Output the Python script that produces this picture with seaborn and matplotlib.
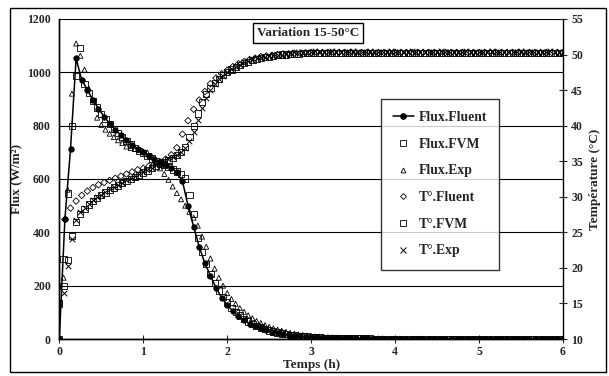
import numpy as np
import matplotlib
matplotlib.use("Agg")
import matplotlib.pyplot as plt
from matplotlib.lines import Line2D
from matplotlib.patches import Rectangle
import seaborn as sns

# sample times: Fluent every 4 min, FVM / experiment every 3 min
t_fluent = np.linspace(0, 6, 91)
t_other = np.linspace(0, 6, 121)

flux_fluent = [
    0, 450, 712, 1052, 972, 935, 897, 864, 834, 808,
    785, 764, 745, 729, 714, 700, 687, 675, 663, 652,
    640, 625, 592, 500, 421, 346, 284, 238, 192, 155,
    128, 104, 86, 71, 58, 48, 40, 33, 27, 22,
    18, 15, 12, 10, 8, 7, 6, 5, 4, 4,
    3, 3, 2, 2, 2, 2, 1, 1, 1, 1,
    1, 1, 1, 1, 1, 1, 0, 0, 0, 0,
    0, 0, 0, 0, 0, 0, 0, 0, 0, 0,
    0, 0, 0, 0, 0, 0, 0, 0, 0, 0,
    0,
]
temp_fluent = [
    15.0, 26.8, 28.4, 29.4, 30.2, 30.8, 31.3, 31.7, 32.0, 32.3,
    32.6, 32.9, 33.2, 33.5, 33.8, 34.0, 34.3, 34.6, 34.9, 35.3,
    35.9, 36.9, 38.8, 40.7, 42.3, 43.6, 44.8, 45.9, 46.7, 47.3,
    47.8, 48.3, 48.7, 49.0, 49.3, 49.5, 49.7, 49.8, 49.9, 50.0,
    50.1, 50.1, 50.2, 50.2, 50.2, 50.3, 50.3, 50.3, 50.3, 50.3,
    50.3, 50.3, 50.3, 50.3, 50.3, 50.3, 50.3, 50.3, 50.3, 50.3,
    50.3, 50.3, 50.3, 50.3, 50.3, 50.3, 50.3, 50.3, 50.3, 50.3,
    50.3, 50.3, 50.3, 50.3, 50.3, 50.3, 50.3, 50.3, 50.3, 50.3,
    50.3, 50.3, 50.3, 50.3, 50.3, 50.3, 50.3, 50.3, 50.3, 50.3,
    50.3,
]
flux_fvm = [
    0, 300, 546, 800, 985, 1090, 955, 922, 893, 868,
    845, 824, 805, 787, 771, 756, 742, 729, 717, 706,
    696, 686, 677, 668, 660, 652, 644, 636, 628, 620,
    602, 540, 470, 380, 325, 280, 245, 210, 182, 158,
    137, 117, 101, 88, 76, 66, 57, 49, 43, 37,
    32, 28, 24, 21, 18, 16, 14, 12, 10, 9,
    8, 7, 6, 5, 5, 4, 4, 3, 3, 3,
    2, 2, 2, 2, 2, 1, 1, 1, 1, 1,
    1, 1, 1, 1, 1, 0, 0, 0, 0, 0,
    0, 0, 0, 0, 0, 0, 0, 0, 0, 0,
    0, 0, 0, 0, 0, 0, 0, 0, 0, 0,
    0, 0, 0, 0, 0, 0, 0, 0, 0, 0,
    0,
]
flux_exp = [
    0, 230, 560, 920, 1108, 1062, 1010, 940, 895, 830,
    803, 785, 770, 757, 745, 735, 722, 716, 712, 708,
    703, 699, 686, 663, 640, 619, 597, 572, 547, 524,
    500, 477, 455, 425, 384, 346, 302, 264, 230, 200,
    172, 150, 132, 116, 102, 89, 78, 68, 60, 52,
    46, 40, 35, 31, 27, 23, 20, 17, 15, 13,
    11, 10, 9, 8, 7, 6, 5, 5, 4, 4,
    3, 3, 3, 2, 2, 2, 2, 2, 1, 1,
    1, 1, 1, 1, 1, 1, 1, 0, 0, 0,
    0, 0, 0, 0, 0, 0, 0, 0, 0, 0,
    0, 0, 0, 0, 0, 0, 0, 0, 0, 0,
    0, 0, 0, 0, 0, 0, 0, 0, 0, 0,
    0,
]
temp_fvm = [
    15.0, 17.5, 21.1, 24.5, 26.5, 27.6, 28.3, 28.9, 29.4, 29.8,
    30.2, 30.6, 31.0, 31.3, 31.6, 31.9, 32.2, 32.5, 32.8, 33.1,
    33.4, 33.7, 34.0, 34.3, 34.6, 34.9, 35.2, 35.5, 35.9, 36.3,
    37.0, 38.4, 40.0, 41.7, 43.3, 44.4, 45.3, 46.0, 46.6, 47.1,
    47.5, 47.9, 48.2, 48.5, 48.8, 49.0, 49.2, 49.4, 49.5, 49.6,
    49.7, 49.8, 49.9, 50.0, 50.0, 50.1, 50.1, 50.1, 50.2, 50.2,
    50.2, 50.2, 50.2, 50.2, 50.2, 50.2, 50.2, 50.2, 50.2, 50.2,
    50.2, 50.2, 50.2, 50.2, 50.2, 50.2, 50.2, 50.2, 50.2, 50.2,
    50.2, 50.2, 50.2, 50.2, 50.2, 50.2, 50.2, 50.2, 50.2, 50.2,
    50.2, 50.2, 50.2, 50.2, 50.2, 50.2, 50.2, 50.2, 50.2, 50.2,
    50.2, 50.2, 50.2, 50.2, 50.2, 50.2, 50.2, 50.2, 50.2, 50.2,
    50.2, 50.2, 50.2, 50.2, 50.2, 50.2, 50.2, 50.2, 50.2, 50.2,
    50.2,
]
temp_exp = [
    15.0, 16.5, 20.3, 24.0, 26.8, 27.8, 28.4, 29.0, 29.5, 29.9,
    30.3, 30.7, 31.1, 31.4, 31.7, 32.0, 32.3, 32.6, 32.9, 33.2,
    33.5, 33.8, 34.1, 34.4, 34.7, 35.0, 35.3, 35.6, 35.9, 36.3,
    36.8, 37.8, 39.1, 40.8, 42.5, 43.9, 45.0, 45.8, 46.5, 47.0,
    47.5, 47.9, 48.3, 48.6, 48.9, 49.1, 49.3, 49.5, 49.6, 49.7,
    49.8, 49.9, 50.0, 50.0, 50.1, 50.2, 50.3, 50.2, 50.4, 50.3,
    50.3, 50.5, 50.4, 50.3, 50.4, 50.5, 50.3, 50.4, 50.4, 50.3,
    50.5, 50.4, 50.3, 50.4, 50.5, 50.4, 50.3, 50.4, 50.4, 50.5,
    50.3, 50.4, 50.4, 50.3, 50.5, 50.4, 50.3, 50.4, 50.4, 50.3,
    50.4, 50.5, 50.3, 50.4, 50.4, 50.3, 50.4, 50.5, 50.4, 50.3,
    50.4, 50.4, 50.3, 50.5, 50.4, 50.3, 50.4, 50.4, 50.3, 50.4,
    50.5, 50.4, 50.3, 50.4, 50.4, 50.3, 50.4, 50.5, 50.4, 50.3,
    50.4,
]

flux_ticks = [0, 200, 400, 600, 800, 1000, 1200]
temp_ticks = [10, 15, 20, 25, 30, 35, 40, 45, 50, 55]
time_ticks = [0, 1, 2, 3, 4, 5, 6]
labels = ["Flux.Fluent", "Flux.FVM", "Flux.Exp", "T°.Fluent", "T°.FVM", "T°.Exp"]

sns.set_style("white")
plt.rcParams["font.family"] = ["Liberation Serif", "DejaVu Serif"]
plt.rcParams["font.weight"] = "bold"
plt.rcParams["axes.labelweight"] = "bold"

fig = plt.figure(figsize=(6.09, 3.76), dpi=100)
ax = fig.add_axes([0.0974, 0.0984, 0.8271, 0.8511])
ax2 = ax.twinx()

# flux on the left axis
sns.lineplot(x=t_fluent, y=flux_fluent, ax=ax, color="black", lw=1.1,
             marker="o", markersize=3.8, markeredgecolor="black",
             estimator=None, sort=False, zorder=5)
sns.scatterplot(x=t_other, y=flux_fvm, ax=ax, marker="s", s=20,
                facecolors="none", edgecolors="black", linewidth=0.6, zorder=4)
sns.scatterplot(x=t_other, y=flux_exp, ax=ax, marker="^", s=13,
                facecolors="none", edgecolors="black", linewidth=0.6, zorder=4)

# temperatures on the right axis
sns.scatterplot(x=t_fluent, y=temp_fluent, ax=ax2, marker="D", s=11,
                facecolors="none", edgecolors="black", linewidth=0.6)
sns.scatterplot(x=t_other, y=temp_fvm, ax=ax2, marker="s", s=20,
                facecolors="none", edgecolors="black", linewidth=0.6)
sns.scatterplot(x=t_other, y=temp_exp, ax=ax2, marker="x", s=16,
                color="black", linewidth=0.7)

ax.set_xlim(0, 6)
ax.set_ylim(0, 1200)
ax2.set_ylim(10, 55)
ax.set_xticks(time_ticks)
ax.set_yticks(flux_ticks)
ax2.set_yticks(temp_ticks)

ax.grid(axis="y", color="black", lw=0.8)
ax.grid(axis="x", visible=False)
ax.set_axisbelow(True)

for a in (ax, ax2):
    a.spines["top"].set_visible(False)
    for s in ("left", "right", "bottom"):
        a.spines[s].set_color("black")
        a.spines[s].set_linewidth(1.0)
ax.spines["right"].set_visible(False)

ax.tick_params(axis="y", length=0, labelsize=8.5, pad=6)
ax.tick_params(axis="x", direction="inout", length=6, width=0.8,
               labelsize=8.5, pad=2, bottom=True)
ax2.tick_params(axis="y", direction="inout", length=6, width=0.8,
                labelsize=8.5, pad=3, right=True)
for lab in ax.get_xticklabels() + ax.get_yticklabels() + ax2.get_yticklabels():
    lab.set_fontweight("bold")

ax.set_xlabel("Temps (h)", fontsize=9.5)
ax.set_ylabel("Flux (W/m²)", fontsize=9.5)
ax2.set_ylabel("Température (°C)", fontsize=9.5)
ax.xaxis.set_label_coords(0.5, -0.062)
ax.yaxis.set_label_coords(-0.074, 0.5)
ax2.yaxis.set_label_coords(1.052, 0.5)

handles = [
    Line2D([], [], color="black", lw=1.1, marker="o", markersize=3.8),
    Line2D([], [], ls="none", marker="s", markersize=4, mfc="none", mec="black", mew=0.6),
    Line2D([], [], ls="none", marker="^", markersize=3.5, mfc="none", mec="black", mew=0.6),
    Line2D([], [], ls="none", marker="D", markersize=3, mfc="none", mec="black", mew=0.6),
    Line2D([], [], ls="none", marker="s", markersize=4, mfc="none", mec="black", mew=0.6),
    Line2D([], [], ls="none", marker="x", markersize=4, mec="black", mew=0.7),
]
leg = fig.legend(handles, labels, loc="upper left",
                 bbox_to_anchor=(381 / 609, 1 - 99 / 376),
                 bbox_transform=fig.transFigure, borderaxespad=0,
                 frameon=True, fancybox=False, edgecolor="black",
                 fontsize=9.8, handlelength=1.5, handletextpad=0.35,
                 labelspacing=1.0, borderpad=0.9)
leg.get_frame().set_linewidth(1.0)
for txt in leg.get_texts():
    txt.set_fontweight("bold")

fig.text(308 / 609, 1 - 33 / 376, "Variation 15-50°C", ha="center", va="center",
         fontsize=9.5, fontweight="bold",
         bbox=dict(boxstyle="square,pad=0.3", fc="white", ec="black", lw=1.0))

fig.patches.append(Rectangle((10 / 609, 4 / 376), 596 / 609, 364 / 376,
                             transform=fig.transFigure, fill=False,
                             ec="black", lw=1.0))

fig.savefig("out.png", dpi=100)
